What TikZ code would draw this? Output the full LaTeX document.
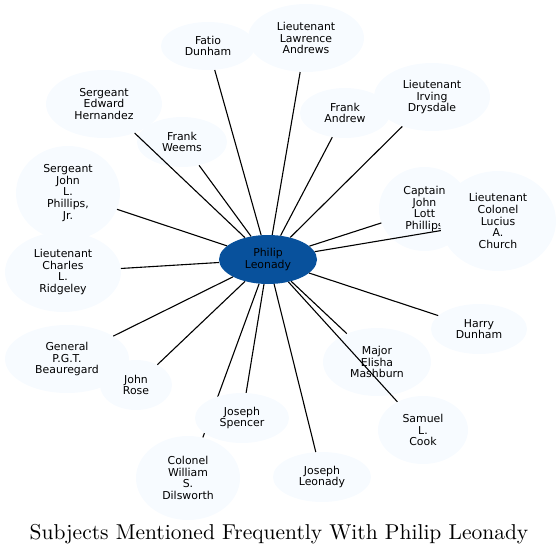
\documentclass[tikz,border=0pt]{standalone}
\usepackage{fontspec}
\usepackage{tikz}
\usetikzlibrary{shapes.geometric}
\newfontfamily\dejavu{DejaVu Sans}
\newfontfamily\titlefont{lmroman10-regular.otf}
\definecolor{hubblue}{RGB}{8,81,156}
\definecolor{leafblue}{RGB}{247,251,255}
\pgfdeclarelayer{back}
\pgfsetlayers{back,main}

\begin{document}
\begin{tikzpicture}[x=1pt, y=-1pt,
  every node/.style={font=\dejavu\fontsize{10.9}{11.7}\selectfont, align=center},
  leaf/.style={ellipse, fill=leafblue, inner sep=0pt},
  hub/.style={ellipse, fill=hubblue, inner sep=0pt, minimum width=98, minimum height=49},
  spoke/.style={line width=1.1pt, black}]

\useasboundingbox (0,0) rectangle (560,555);

% =================== hub ===================
\node[hub] (philip) at (268,259.5) {Philip\\Leonady};

% =================== leaves: name/x/y/half-width/half-height/label ===================
\foreach \nm/\px/\py/\rx/\ry/\txt in {
  fatio/208/46/47/24/{Fatio\\Dunham},
  lawrence/306/38/58/34/{Lieutenant\\Lawrence\\Andrews},
  hernandez/104/104/58/34/{Sergeant\\Edward\\Hernandez},
  weems/182/142/45/25/{Frank\\Weems},
  andrew/345/113/45/25/{Frank\\Andrew},
  drysdale/432/97/58/34/{Lieutenant\\Irving\\Drysdale},
  phillipsjr/68/193/52/47/{Sergeant\\John\\L.\\Phillips,\\Jr.},
  ridgeley/63/272/58/40/{Lieutenant\\Charles\\L.\\Ridgeley},
  lott/424.5/209/45.5/42/{Captain\\John\\Lott\\Phillips},
  church/498/221/58/50/{Lieutenant\\Colonel\\Lucius\\A.\\Church},
  harry/479/329/48/25/{Harry\\Dunham},
  mashburn/377/362/54/34/{Major\\Elisha\\Mashburn},
  cook/423/430/45/34/{Samuel\\L.\\Cook},
  joseph/322/477/49/25/{Joseph\\Leonady},
  spencer/242/418/47/25/{Joseph\\Spencer},
  dilsworth/188/478/52/42/{Colonel\\William\\S.\\Dilsworth},
  rose/136/385/36/25/{John\\Rose},
  beauregard/67/359/62/34/{General\\P.G.T.\\Beauregard}}{
  \node[leaf, minimum width=2*\rx, minimum height=2*\ry] (\nm) at (\px,\py) {\txt};
}

% =================== spokes ===================
\foreach \nm in {fatio, lawrence, hernandez, weems, andrew, drysdale, phillipsjr,
  ridgeley, lott, church, harry, mashburn, cook, joseph, spencer, rose, beauregard}{
  \draw[spoke] (philip) -- (\nm);
}
% this one runs behind Joseph Spencer
\begin{pgfonlayer}{back}
\draw[spoke] (philip) -- (dilsworth);
\end{pgfonlayer}

% title
\node[font=\titlefont\fontsize{21.5}{24}\selectfont, anchor=base] (title) at (279,539)
  {Subjects Mentioned Frequently With Philip Leonady};

\end{tikzpicture}
\end{document}
